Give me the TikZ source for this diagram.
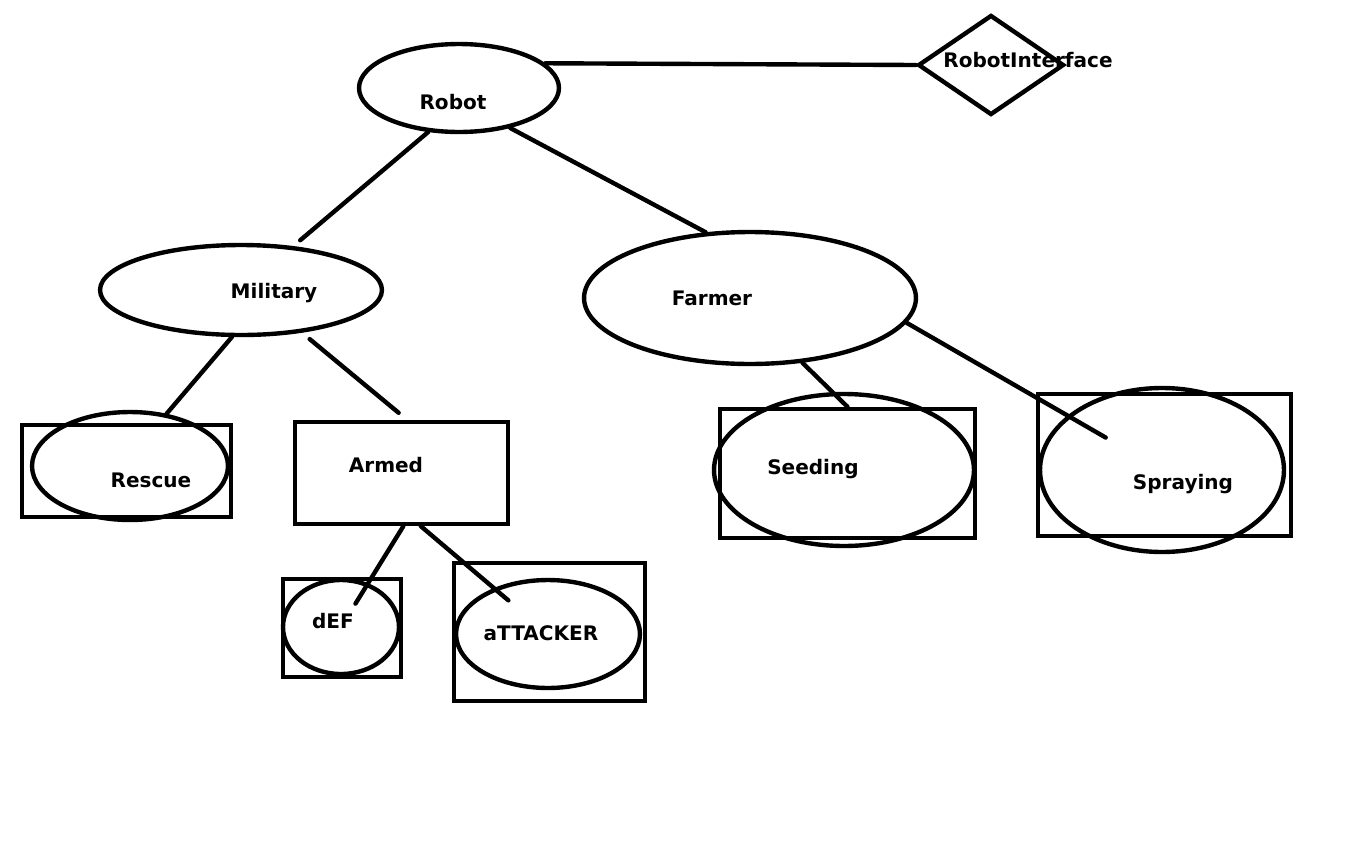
\documentclass[tikz,border=0pt]{standalone}
\usepackage{fontspec}
\setmainfont{DejaVu Sans}
\usetikzlibrary{shapes.geometric}

\begin{document}
\begin{tikzpicture}[x=0.02cm, y=-0.02cm, line width=2.5pt, line cap=round,
    oval/.style={shape=ellipse, draw, inner sep=0pt},
    box/.style={shape=rectangle, draw, inner sep=0pt},
    txt/.style={font=\fontsize{11.4}{13}\selectfont\bfseries, inner sep=0pt}]
    \useasboundingbox (0,0) rectangle (1367,866);

    % top level
    \node[oval, minimum width=4cm, minimum height=1.76cm] (robot) at (459,88) {};
    \node[txt] (robottxt) at (453,102) {Robot};
    \node[shape=diamond, draw, inner sep=0pt, minimum width=2.92cm, minimum height=2cm] (iface) at (991,65) {};
    \node[txt] (ifacetxt) at (1028,60) {RobotInterface};

    % second level
    \node[oval, minimum width=5.64cm, minimum height=1.8cm] (military) at (241,290) {};
    \node[txt] (militarytxt) at (274,293) {Military};
    \node[oval, minimum width=6.64cm, minimum height=2.64cm] (farmer) at (750,298) {};
    \node[txt] (farmertxt) at (712,298) {Farmer};

    % leaves of Military
    \node[box, minimum width=4.18cm, minimum height=1.84cm] (rescuebox) at (126.5,471) {};
    \node[oval, minimum width=3.92cm, minimum height=2.16cm] (rescue) at (130,466) {};
    \node[txt] (rescuetxt) at (151,480) {Rescue};
    \node[box, minimum width=4.26cm, minimum height=2.04cm] (armed) at (401.5,473) {};
    \node[txt] (armedtxt) at (386,465) {Armed};

    \node[box, minimum width=2.36cm, minimum height=1.96cm] (defbox) at (342,628) {};
    \node[oval, minimum width=2.32cm, minimum height=1.88cm] (def) at (341,627) {};
    \node[txt] (deftxt) at (333,621) {dEF};
    \node[box, minimum width=3.82cm, minimum height=2.76cm] (attackerbox) at (549.5,632) {};
    \node[oval, minimum width=3.68cm, minimum height=2.16cm] (attacker) at (548,634) {};
    \node[txt] (attackertxt) at (541,633) {aTTACKER};

    % leaves of Farmer
    \node[box, minimum width=5.1cm, minimum height=2.58cm] (seedingbox) at (847.5,473.5) {};
    \node[oval, minimum width=5.2cm, minimum height=3.04cm] (seeding) at (844,470) {};
    \node[txt] (seedingtxt) at (813,469) {Seeding};
    \node[box, minimum width=5.06cm, minimum height=2.84cm] (sprayingbox) at (1164.5,465) {};
    \node[oval, minimum width=4.88cm, minimum height=3.28cm] (spraying) at (1162,470) {};
    \node[txt] (sprayingtxt) at (1183,484) {Spraying};

    % connectors
    \draw (robot.16) -- (iface.west);
    \draw[shorten >=0.18cm] (robot.235) -- (military.40);
    \draw (robot.-38) -- (farmer.124);
    \draw (military.-101.5) -- (rescue.55.6);
    \draw[shorten <=0.2cm, shorten >=0.22cm] (military.-35) -- (armed.84);
    \draw[shorten >=0.55cm] (armed.-88) -- (def.center);
    \draw[shorten >=1.04cm] (armed.-70) -- (attacker.center);
    \draw (farmer.-51) -- (seedingbox.north);
    \draw[shorten >=1.3cm] (farmer.-9) -- (spraying.center);
\end{tikzpicture}
\end{document}
